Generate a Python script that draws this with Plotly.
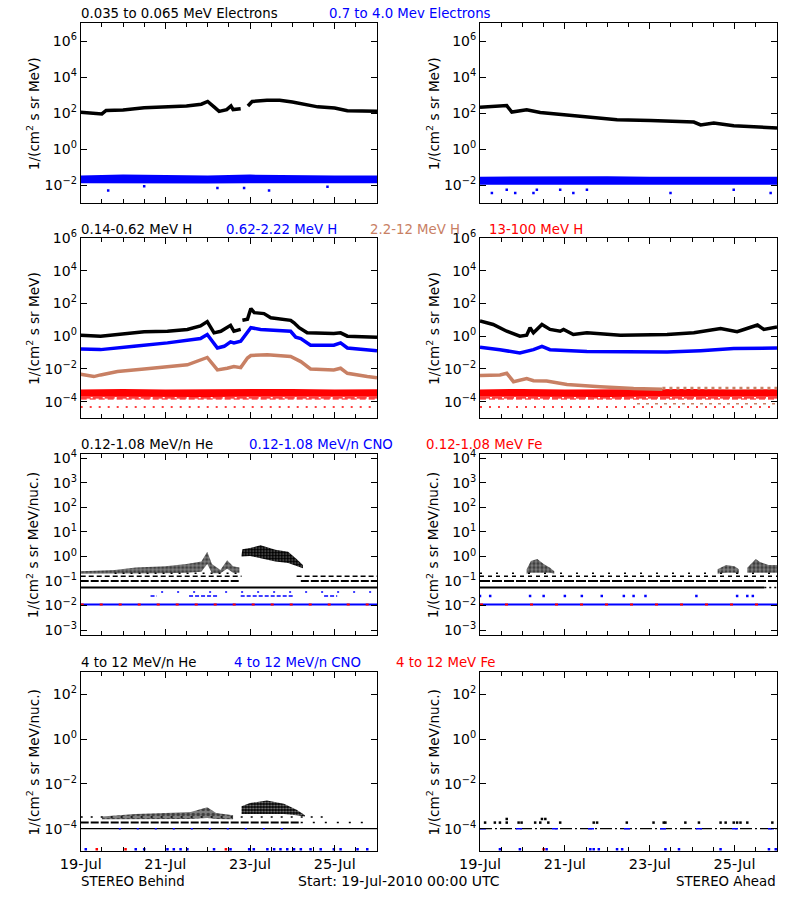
import plotly.graph_objects as go
import pandas as pd

START = pd.Timestamp("2010-07-19 00:00")
END = pd.Timestamp("2010-07-26 00:00")
BLACK, BLUE, RED, BROWN = "#000000", "#0000FF", "#FF0000", "#C88064"

# ================= DATA (time in days since 19-Jul-2010 00:00) =================
# ---- Row 1: electrons ----
eB_lo_t = [0.0, 0.3, 0.5, 0.6, 1.0, 1.5, 2.0, 2.5, 2.85, 3.0, 3.15, 3.27, 3.45, 3.55, 3.6, 3.78, 3.87, 3.95, 4.05, 4.4, 4.7, 5.0, 5.3, 5.6, 6.0, 6.3, 7.0]
eB_lo_v = [112, 105, 91, 141, 151, 200, 234, 251, 316, 447, 224, 126, 158, 251, 158, 178, None, 251, 447, 525, 525, 417, 302, 224, 191, 135, 126]
eB_hi_t = [0, 1, 2, 3, 4, 5, 6, 7]
eB_hi_low = [0.0125, 0.012, 0.0125, 0.012, 0.0125, 0.012, 0.0125, 0.0125]
eB_hi_high = [0.034, 0.038, 0.036, 0.034, 0.038, 0.035, 0.034, 0.034]
eB_hi_out_t = [0.65, 1.5, 3.23, 3.86, 4.45, 5.83]
eB_hi_out_v = [0.005, 0.0085, 0.0068, 0.0068, 0.005, 0.008]

eA_lo_t = [0, 0.47, 0.63, 0.75, 1.1, 1.42, 2.05, 2.52, 2.99, 3.23, 4.02, 4.8, 5.04, 5.2, 5.51, 5.98, 6.38, 7.0]
eA_lo_v = [214, 234, 263, 115, 155, 110, 81, 65, 52, 43, 39, 35, 32, 22, 28, 20, 18, 15]
eA_hi_t = [0, 1, 2, 3, 4, 5, 6, 7]
eA_hi_low = [0.0105, 0.0105, 0.011, 0.0105, 0.011, 0.0105, 0.0105, 0.0105]
eA_hi_high = [0.029, 0.030, 0.029, 0.031, 0.029, 0.030, 0.029, 0.029]
eA_hi_out_t = [0.28, 0.63, 0.83, 1.26, 1.34, 1.89, 2.2, 2.52, 4.49, 5.98, 6.85]
eA_hi_out_v = [0.0036, 0.0055, 0.0036, 0.0036, 0.0055, 0.0055, 0.0036, 0.0055, 0.0036, 0.0055, 0.0036]

# ---- Row 2: protons ----
hB1_t = [0, 0.47, 1.5, 2.05, 2.52, 2.83, 2.99, 3.15, 3.31, 3.54, 3.62, 3.78, 3.80, 3.82, 3.94, 4.02, 4.1, 4.33, 4.49, 4.96, 5.04, 5.16, 5.35, 5.98, 6.14, 6.3, 7.0]
hB1_v = [1.15, 1.0, 1.86, 2.0, 2.57, 4.2, 7.8, 1.6, 2.0, 4.6, 2.0, 2.6, None, 9.3, 10.7, 49, 27.5, 24, 13.5, 9.3, 6.6, 3.3, 1.6, 1.45, 1.6, 1.0, 0.87]
hB2_t = [0, 0.47, 1.26, 2.05, 2.83, 2.99, 3.23, 3.39, 3.54, 3.62, 3.78, 3.94, 4.02, 4.25, 4.96, 5.08, 5.2, 5.43, 5.98, 6.14, 6.3, 7.0]
hB2_v = [0.166, 0.151, 0.24, 0.39, 0.72, 1.26, 0.19, 0.24, 0.45, 0.39, 0.49, 1.86, 3.3, 2.57, 2.0, 0.87, 0.72, 0.28, 0.28, 0.39, 0.19, 0.13]
hB3_t = [0, 0.31, 0.47, 0.87, 1.5, 2.05, 2.52, 2.99, 3.23, 3.46, 3.62, 3.78, 3.94, 4.02, 4.41, 4.96, 5.2, 5.43, 5.98, 6.14, 6.3, 6.77, 7.0]
hB3_v = [0.0047, 0.0034, 0.0043, 0.0069, 0.010, 0.0138, 0.0178, 0.050, 0.0087, 0.011, 0.0138, 0.012, 0.046, 0.066, 0.074, 0.058, 0.028, 0.010, 0.0087, 0.011, 0.0054, 0.0034, 0.0029]
h4_t = [0, 1, 2, 3, 4, 5, 6, 7]
h4_low = [0.00020, 0.00019, 0.00020, 0.00019, 0.00020, 0.00019, 0.00020, 0.00020]
h4_high = [0.00055, 0.00060, 0.00056, 0.00058, 0.00055, 0.00060, 0.00056, 0.00058]
h4_lines_v = [0.00017, 0.000145, 0.000047]

hA1_t = [0, 0.31, 0.63, 0.94, 1.1, 1.18, 1.26, 1.46, 1.65, 1.89, 1.97, 2.2, 2.52, 3.31, 4.41, 5.04, 5.67, 6.06, 6.22, 6.54, 6.69, 7.0]
hA1_v = [8.5, 5.2, 2.0, 1.0, 1.15, 3.3, 1.6, 5.2, 2.6, 2.0, 2.6, 1.26, 1.6, 1.15, 1.26, 1.6, 2.95, 1.86, 2.57, 4.8, 2.57, 3.6]
hA2_t = [0, 0.47, 0.94, 1.26, 1.46, 1.65, 2.52, 4.41, 5.2, 5.98, 7.0]
hA2_v = [0.21, 0.15, 0.093, 0.15, 0.24, 0.15, 0.117, 0.107, 0.13, 0.174, 0.19]
hA3_t = [0, 0.47, 0.63, 0.79, 1.1, 1.26, 1.57, 2.05, 2.83, 3.62, 4.3]
hA3_v = [0.0039, 0.0043, 0.0054, 0.00166, 0.0026, 0.0019, 0.0018, 0.00112, 0.00081, 0.00063, 0.00058]
hA3_tail_t = [4.3, 7.0]
hA3_tail_v = [0.00065, 0.00065]
hA3_floor_t = [3.7, 7.0]
hA3_floor_v = [0.000075, 0.000075]

# ---- Row 3: 0.12-1.08 MeV/n ions (count levels, clouds) ----
heB_L1_t = [0, 7.0]; heB_L1_v = [0.054, 0.054]
heB_L2_t = [0, 3.78, 3.79, 5.2, 7.0]; heB_L2_v = [0.1, 0.1, None, 0.1, 0.1]
heB_L3_t = [0, 3.8, 3.81, 5.1, 7.0]; heB_L3_v = [0.155, 0.155, None, 0.155, 0.155]
heB_L4_t = [0.8, 3.7]; heB_L4_v = [0.21, 0.21]
heB_cA_t = [0.0, 0.8, 1.3, 2.0, 2.5, 2.85, 2.99, 3.1, 3.3, 3.46, 3.6, 3.75]
heB_cA_hi = [0.25, 0.28, 0.355, 0.4, 0.5, 0.63, 1.58, 0.5, 0.28, 0.71, 0.4, 0.36]
heB_cA_lo = [0.2, 0.2, 0.21, 0.21, 0.22, 0.24, 0.5, 0.21, 0.21, 0.32, 0.22, 0.22]
heB_cB_t = [3.8, 3.82, 4.0, 4.25, 4.6, 4.9, 5.1, 5.25]
heB_cB_hi = [1.17, 2.0, 2.2, 2.9, 1.9, 1.58, 0.8, 0.45]
heB_cB_lo = [1.0, 1.0, 1.05, 0.85, 0.63, 0.55, 0.41, 0.33]
cnoB_L1_t = [0, 7.0]; cnoB_L1_v = [0.011, 0.011]
cnoB_L2_t = [1.65, 1.8, 1.81, 2.56, 3.23, 3.24, 3.78, 5.04, 5.05, 5.75, 6.06]
cnoB_L2_v = [0.0246, 0.0246, None, 0.0246, 0.0246, None, 0.0246, 0.0246, None, 0.0246, 0.0246]
cnoB_L3_t = [1.9, 2.52, 3.6, 3.9, 4.2, 4.9, 6.93]
cnoB_L3_v = [0.036, 0.036, 0.036, 0.036, 0.036, 0.036, 0.036]
feB_L1_t = [0, 7.0]; feB_L1_v = [0.011, 0.011]

heA_L1_t = [0, 6.7]; heA_L1_v = [0.054, 0.054]
heA_L1b_t = [6.7, 7.0]; heA_L1b_v = [0.054, 0.054]
heA_L2_t = [0, 7.0]; heA_L2_v = [0.1, 0.1]
heA_L3_t = [0, 7.0]; heA_L3_v = [0.155, 0.155]
heA_L4_t = [0, 7.0]; heA_L4_v = [0.21, 0.21]
heA_c1_t = [1.1, 1.2, 1.35, 1.5, 1.65, 1.75]
heA_c1_hi = [0.3, 0.65, 0.8, 0.5, 0.35, 0.25]
heA_c1_lo = [0.2, 0.22, 0.22, 0.22, 0.22, 0.2]
heA_c2_t = [5.6, 5.8, 6.0, 6.1]
heA_c2_hi = [0.3, 0.45, 0.4, 0.3]
heA_c2_lo = [0.2, 0.22, 0.22, 0.2]
heA_c3_t = [6.3, 6.5, 6.6, 6.8, 7.0]
heA_c3_hi = [0.35, 0.8, 0.6, 0.45, 0.45]
heA_c3_lo = [0.22, 0.22, 0.22, 0.22, 0.22]
cnoA_L1_t = [0, 7.0]; cnoA_L1_v = [0.011, 0.011]
cnoA_L2_t = [0.0, 0.24, 1.18, 1.5, 2.0, 2.4, 2.87, 3.39, 3.62, 3.9, 5.1, 6.06, 6.3, 6.43]
cnoA_L2_v = [0.0246] * 14
feA_L1_t = [0, 7.0]; feA_L1_v = [0.011, 0.011]

# ---- Row 4: 4-12 MeV/n ions ----
he4B_L1_t = [0, 7.0]; he4B_L1_v = [1e-4, 1e-4]
he4B_L2_t = [0, 5.2]; he4B_L2_v = [1.86e-4, 1.86e-4]
he4B_L2b_t = [5.2, 6.9]; he4B_L2b_v = [1.86e-4, 1.86e-4]
he4B_L3_t = [0, 5.8]; he4B_L3_v = [3.3e-4, 3.3e-4]
he4B_cA_t = [0.5, 1.3, 2.0, 2.6, 2.99, 3.2, 3.6]
he4B_cA_hi = [3.5e-4, 4.5e-4, 5e-4, 5.5e-4, 9e-4, 5e-4, 4e-4]
he4B_cA_lo = [2.6e-4, 2.6e-4, 2.6e-4, 2.7e-4, 3e-4, 2.7e-4, 2.6e-4]
he4B_cB_t = [3.8, 4.0, 4.4, 4.8, 5.1, 5.3]
he4B_cB_hi = [1.0e-3, 1.4e-3, 1.8e-3, 1.3e-3, 7e-4, 4e-4]
he4B_cB_lo = [4.5e-4, 4.5e-4, 4.5e-4, 4.5e-4, 4e-4, 3.5e-4]
cno4B_L1_t = [0.9, 5.0]; cno4B_L1_v = [1e-4, 1e-4]
cno4B_low_t = [0.12, 1.3, 1.5, 2.05, 2.2, 2.36, 2.52, 3.15, 3.54, 3.98, 4.09, 4.41, 4.57, 4.72, 4.88, 5.04, 5.2, 5.43, 5.67, 5.98, 6.14, 6.54, 6.77]
cno4B_low_v = [1.2e-5] * 23
fe4B_low_t = [0.38, 1.06, 3.43]
fe4B_low_v = [1.2e-5, 1.2e-5, 1.2e-5]

he4A_L1_t = [0, 7.0]; he4A_L1_v = [1e-4, 1e-4]
he4A_dots_t = [0.12, 0.35, 0.47, 0.63, 0.91, 0.98, 1.30, 1.42, 1.61, 1.89, 2.68, 2.76, 3.46, 4.09, 4.33, 4.37, 4.84, 5.16, 5.67, 5.79, 5.98, 6.06, 6.14, 6.30, 6.89]
he4A_dots_v = [1.86e-4] * 25
he4A_dots2_t = [0.63, 1.46, 1.54]
he4A_dots2_v = [2.7e-4, 2.7e-4, 2.7e-4]
cno4A_L1_t = [0, 7.0]; cno4A_L1_v = [1e-4, 1e-4]
cno4A_low_t = [0.47, 0.94, 1.57, 2.6, 2.68, 2.8, 3.23, 3.35, 4.37, 4.69, 5.67, 6.81, 6.97]
cno4A_low_v = [1.2e-5] * 13
fe4A_low_t = [1.5]
fe4A_low_v = [1.2e-5]

# ================= LAYOUT GEOMETRY (target pixel positions) =================
W, H = 800, 900
COLS = [(80.7, 377), (480, 777)]
ROWS = [(23.3, 203), (238, 418), (453.5, 635), (672, 851)]
YRANGE = [(-3, 7), (-5, 6), (-3.2, 4.2), (-5, 3)]
YTICKS = [[-2, 0, 2, 4, 6], [-4, -2, 0, 2, 4, 6], [-3, -2, -1, 0, 1, 2, 3, 4], [-4, -2, 0, 2]]
YTITLE = ["1/(cm<sup>2</sup> s sr MeV)", "1/(cm<sup>2</sup> s sr MeV)",
          "1/(cm<sup>2</sup> s sr MeV/nuc.)", "1/(cm<sup>2</sup> s sr MeV/nuc.)"]
XTICK_DAYS = [0, 2, 4, 6]
XTICK_TEXT = ["19-Jul", "21-Jul", "23-Jul", "25-Jul"]
FONT = "DejaVu Sans"
FS = 13.3


def fx(X):
    return X / W


def fy(Y):
    return 1 - Y / H


fig = go.Figure()


def T(days):
    return [(START + pd.Timedelta(days=d)).strftime("%Y-%m-%d %H:%M:%S") for d in days]


def ax(k):
    return ("x" if k == 1 else f"x{k}"), ("y" if k == 1 else f"y{k}")


def line(k, t, v, color, width=3, dash=None):
    xa, ya = ax(k)
    fig.add_trace(go.Scatter(x=T(t), y=v, mode="lines", xaxis=xa, yaxis=ya,
                             line=dict(color=color, width=width, dash=dash),
                             connectgaps=False, hoverinfo="skip"))


def band(k, t, lo, hi, color, pattern=None, dense=False):
    xa, ya = ax(k)
    fig.add_trace(go.Scatter(x=T(t), y=lo, mode="lines", xaxis=xa, yaxis=ya,
                             line=dict(color=color, width=0), hoverinfo="skip"))
    kw = dict(fill="tonexty")
    if pattern is None:
        kw["fillcolor"] = color
    elif dense:
        kw["fillpattern"] = dict(shape=".", fgcolor="white", bgcolor=color,
                                 size=pattern[0], solidity=pattern[1])
    else:
        kw["fillpattern"] = dict(shape=".", fgcolor=color, size=pattern[0], solidity=pattern[1])
    fig.add_trace(go.Scatter(x=T(t), y=hi, mode="lines", xaxis=xa, yaxis=ya,
                             line=dict(color=color, width=0), hoverinfo="skip", **kw))


def dots(k, t, v, color, size=3):
    xa, ya = ax(k)
    fig.add_trace(go.Scatter(x=T(t), y=v, mode="markers", xaxis=xa, yaxis=ya,
                             marker=dict(color=color, size=size, symbol="square"),
                             hoverinfo="skip"))


# ---- Row 1 ----
band(1, eB_hi_t, eB_hi_low, eB_hi_high, BLUE)
dots(1, eB_hi_out_t, eB_hi_out_v, BLUE, 2.5)
line(1, eB_lo_t, eB_lo_v, BLACK, 3.5)
band(2, eA_hi_t, eA_hi_low, eA_hi_high, BLUE)
dots(2, eA_hi_out_t, eA_hi_out_v, BLUE, 2.5)
line(2, eA_lo_t, eA_lo_v, BLACK, 3.5)

# ---- Row 2 ----
for k in (3, 4):
    band(k, h4_t, h4_low, h4_high, RED)
    line(k, [0, 7], [h4_lines_v[0]] * 2, RED, 1.2, "10px,2px")
    line(k, [0, 7], [h4_lines_v[1]] * 2, RED, 1.2, "6px,3px")
    line(k, [0, 7], [h4_lines_v[2]] * 2, RED, 1.5, "2px,7px")
line(3, hB3_t, hB3_v, BROWN, 3.5)
line(3, hB2_t, hB2_v, BLUE, 3.5)
line(3, hB1_t, hB1_v, BLACK, 3.5)
line(4, hA3_tail_t, hA3_tail_v, BROWN, 3, "3px,4px")
line(4, hA3_floor_t, hA3_floor_v, BROWN, 1.5, "3px,6px")
line(4, hA3_t, hA3_v, BROWN, 3.5)
line(4, hA2_t, hA2_v, BLUE, 3.5)
line(4, hA1_t, hA1_v, BLACK, 3.5)

# ---- Row 3 ----
line(5, heB_L1_t, heB_L1_v, BLACK, 2)
line(5, heB_L2_t, heB_L2_v, BLACK, 2, "8px,2px")
line(5, heB_L3_t, heB_L3_v, BLACK, 1.5, "5px,3px")
line(5, heB_L4_t, heB_L4_v, BLACK, 1.5, "2px,6px")
band(5, heB_cA_t, heB_cA_lo, heB_cA_hi, BLACK, (4, 0.5))
band(5, heB_cB_t, heB_cB_lo, heB_cB_hi, BLACK, (3, 0.25), dense=True)
line(5, cnoB_L3_t, cnoB_L3_v, BLUE, 1.5, "2px,14px")
line(5, cnoB_L2_t, cnoB_L2_v, BLUE, 1.5, "4px,2px")
line(5, cnoB_L1_t, cnoB_L1_v, BLUE, 2)
line(5, feB_L1_t, feB_L1_v, RED, 2, "3px,16px")

line(6, heA_L1_t, heA_L1_v, BLACK, 2)
line(6, heA_L1b_t, heA_L1b_v, BLACK, 1.5, "2px,3px")
line(6, heA_L2_t, heA_L2_v, BLACK, 2, "10px,2px")
line(6, heA_L3_t, heA_L3_v, BLACK, 1.5, "4px,4px")
line(6, heA_L4_t, heA_L4_v, BLACK, 1.5, "2px,14px")
band(6, heA_c1_t, heA_c1_lo, heA_c1_hi, BLACK, (4, 0.55))
band(6, heA_c2_t, heA_c2_lo, heA_c2_hi, BLACK, (4, 0.45))
band(6, heA_c3_t, heA_c3_lo, heA_c3_hi, BLACK, (4, 0.55))
dots(6, cnoA_L2_t, cnoA_L2_v, BLUE, 2.5)
line(6, cnoA_L1_t, cnoA_L1_v, BLUE, 2)
line(6, feA_L1_t, feA_L1_v, RED, 2, "3px,22px")

# ---- Row 4 ----
line(7, he4B_L1_t, he4B_L1_v, BLACK, 1.2)
line(7, he4B_L2_t, he4B_L2_v, BLACK, 2, "8px,2px")
line(7, he4B_L2b_t, he4B_L2b_v, BLACK, 1.5, "2px,10px")
line(7, he4B_L3_t, he4B_L3_v, BLACK, 1.5, "2px,8px")
band(7, he4B_cA_t, he4B_cA_lo, he4B_cA_hi, BLACK, (5, 0.4))
band(7, he4B_cB_t, he4B_cB_lo, he4B_cB_hi, BLACK, (3, 0.4), dense=True)
line(7, cno4B_L1_t, cno4B_L1_v, BLUE, 1.5, "2px,16px")
dots(7, cno4B_low_t, cno4B_low_v, BLUE, 2.5)
dots(7, fe4B_low_t, fe4B_low_v, RED, 2.5)

line(8, he4A_L1_t, he4A_L1_v, BLACK, 1.2, "12px,3px,2px,3px")
line(8, cno4A_L1_t, cno4A_L1_v, BLUE, 1.5, "6px,30px")
dots(8, he4A_dots_t, he4A_dots_v, BLACK, 2.5)
dots(8, he4A_dots2_t, he4A_dots2_v, BLACK, 2.5)
dots(8, cno4A_low_t, cno4A_low_v, BLUE, 2.5)
dots(8, fe4A_low_t, fe4A_low_v, RED, 2.5)

# ================= AXES =================
layout = dict(width=W, height=H,
              margin=dict(l=0, r=0, t=0, b=0, pad=0, autoexpand=False), autosize=False,
              paper_bgcolor="white", plot_bgcolor="white", showlegend=False,
              font=dict(family=FONT, size=FS, color="black"))


def sup(e):
    return "10<sup>" + (str(e) if e >= 0 else "\u2212" + str(-e)) + "</sup>"


k = 0
for r, (ytop, ybot) in enumerate(ROWS):
    for c, (xl, xr) in enumerate(COLS):
        k += 1
        xn = "xaxis" if k == 1 else f"xaxis{k}"
        yn = "yaxis" if k == 1 else f"yaxis{k}"
        layout[xn] = dict(
            domain=[fx(xl), fx(xr)], anchor=ax(k)[1], type="date", automargin=False,
            range=[START.strftime("%Y-%m-%d"), END.strftime("%Y-%m-%d")],
            tickmode="array", tickvals=T(XTICK_DAYS), ticktext=XTICK_TEXT,
            ticks="inside", ticklen=6, tickcolor="black", tickwidth=1,
            minor=dict(tickmode="linear", tick0="2010-07-19", dtick=43200000,
                       ticks="inside", ticklen=4, tickcolor="black"),
            showline=True, linecolor="black", linewidth=1, mirror="ticks",
            showgrid=False, zeroline=False, showticklabels=(r == 3),
            tickfont=dict(family=FONT, size=14.5))
        layout[yn] = dict(
            domain=[fy(ybot), fy(ytop)], anchor=ax(k)[0], type="log", automargin=False,
            range=list(YRANGE[r]), tickvals=[10.0 ** e for e in YTICKS[r]],
            ticktext=[sup(e) for e in YTICKS[r]],
            ticks="inside", ticklen=6, tickcolor="black",
            showline=True, linecolor="black", linewidth=1, mirror="ticks",
            showgrid=False, zeroline=False, tickfont=dict(family=FONT, size=14))

fig.update_layout(**layout)


# ================= TEXT =================
def note(text, x, y, color="black", xanchor="left", size=FS, angle=0):
    fig.add_annotation(text=text, x=fx(x), y=fy(y), xref="paper", yref="paper",
                       showarrow=False, xanchor=xanchor, yanchor="middle",
                       textangle=angle, borderpad=0,
                       font=dict(family=FONT, size=size, color=color))


TITLES = [
    [("0.035 to 0.065 MeV Electrons", 80, BLACK), ("0.7 to 4.0 Mev Electrons", 328, BLUE)],
    [("0.14-0.62 MeV H", 80, BLACK), ("0.62-2.22 MeV H", 225, BLUE),
     ("2.2-12 MeV H", 369, BROWN), ("13-100 MeV H", 488, RED)],
    [("0.12-1.08 MeV/n He", 80, BLACK), ("0.12-1.08 MeV/n CNO", 248, BLUE),
     ("0.12-1.08 MeV Fe", 425, RED)],
    [("4 to 12 MeV/n He", 80, BLACK), ("4 to 12 MeV/n CNO", 233, BLUE),
     ("4 to 12 MeV Fe", 395, RED)],
]
TITLE_Y = [13, 229, 444, 662]
for r, items in enumerate(TITLES):
    for txt, x, col in items:
        note(txt, x, TITLE_Y[r], col)

for r, (ytop, ybot) in enumerate(ROWS):
    for xc in (33, 433):
        note(YTITLE[r], xc, (ytop + ybot) / 2 + 1, xanchor="center", size=13.6, angle=-90)

note("STEREO Behind", 80, 881)
note("Start: 19-Jul-2010 00:00 UTC", 399, 881, xanchor="center", size=14)
note("STEREO Ahead", 777, 881, xanchor="right")

fig.write_html("out.html", config={"displayModeBar": False},
               post_script="document.body.style.margin='0px';")
